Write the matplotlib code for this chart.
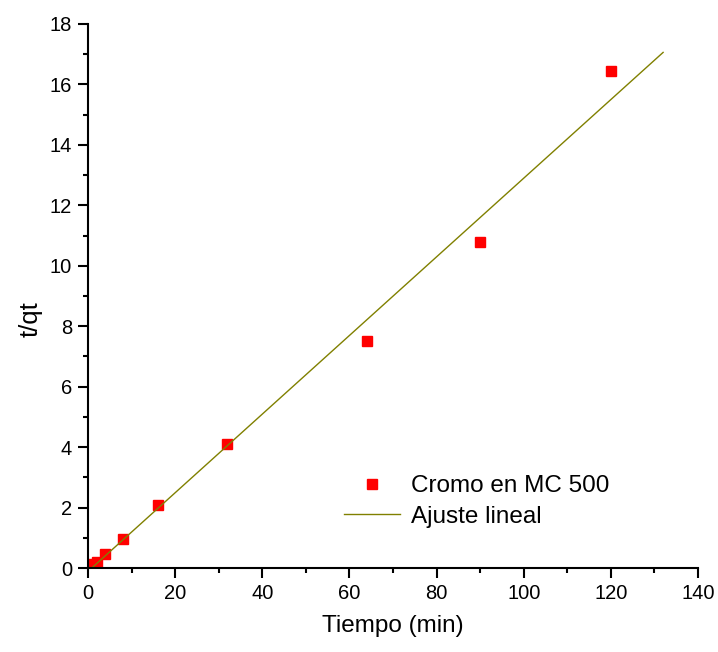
import matplotlib.pyplot as plt
from matplotlib.ticker import MultipleLocator

plt.rcParams['font.family'] = ['Liberation Sans', 'DejaVu Sans']

# experimental points
tiempo = [1, 2, 4, 8, 16, 32, 64, 90, 120]
t_qt = [0.12, 0.21, 0.45, 0.96, 2.08, 4.10, 7.52, 10.78, 16.46]

# linear fit endpoints
fit_x = [0.85, 132]
fit_y = [0.0, 17.06]

fig = plt.figure(figsize=(7.18, 6.52), dpi=100)
ax = fig.add_axes([0.1226, 0.1288, 0.8495, 0.8344])

ax.plot(tiempo, t_qt, 's', color='#ff0000', markersize=7.5, label='Cromo en MC 500')
ax.plot(fit_x, fit_y, '-', color='#808000', linewidth=1.0, label='Ajuste lineal')

ax.set_xlim(0, 140)
ax.set_ylim(0, 18)
ax.xaxis.set_major_locator(MultipleLocator(20))
ax.xaxis.set_minor_locator(MultipleLocator(10))
ax.yaxis.set_major_locator(MultipleLocator(2))
ax.yaxis.set_minor_locator(MultipleLocator(1))

for side in ['top', 'right']:
    ax.spines[side].set_visible(False)
for side in ['left', 'bottom']:
    ax.spines[side].set_linewidth(1.5)

ax.tick_params(which='major', direction='out', length=7, width=1.5, labelsize=14.5, pad=4.5)
ax.tick_params(which='minor', direction='out', length=3.6, width=1.5)

ax.set_xlabel('Tiempo (min)', fontsize=17.5, labelpad=9)
ax.set_ylabel('t/qt', fontsize=18.5)
ax.yaxis.set_label_coords(-0.074, 0.458)

ax.legend(loc='center left', bbox_to_anchor=(0.42, 0.122), frameon=False,
          fontsize=17.5, handlelength=2.3, handletextpad=0.45,
          borderpad=0, borderaxespad=0, labelspacing=0.35)

fig.savefig('out.png', dpi=100)
